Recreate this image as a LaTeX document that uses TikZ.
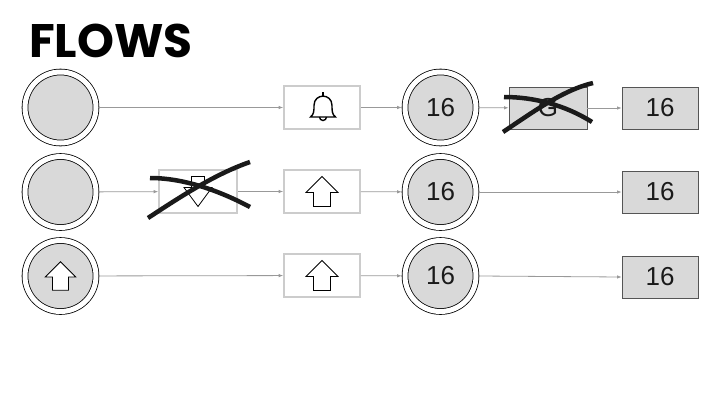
\documentclass[tikz,border=0pt]{standalone}
\usepackage{fontspec}
\setmainfont{Liberation Sans}
\newfontfamily\titlefont{Poppins}
\usetikzlibrary{arrows.meta}
\definecolor{fillgrey}{HTML}{D9D9D9}
\definecolor{lightedge}{HTML}{CCCCCC}
\definecolor{darkedge}{HTML}{555555}
\definecolor{flowgrey}{HTML}{999999}
\definecolor{inkblack}{HTML}{1A1A1A}
\begin{document}
\begin{tikzpicture}[x=1pt,y=-1pt,
  dcirc/.style={circle, draw=black, line width=0.8pt, double=white, double distance=5pt,
    fill=fillgrey, minimum size=71pt, inner sep=0pt, outer sep=3.3pt,
    font=\fontsize{26}{26}\selectfont, text=inkblack},
  lightbox/.style={rectangle, draw=lightedge, line width=1.6pt, fill=white,
    minimum width=76pt, minimum height=43pt, inner sep=0pt, outer sep=0.8pt},
  darkbox/.style={rectangle, draw=darkedge, line width=0.8pt, fill=fillgrey,
    minimum width=76pt, minimum height=42pt, inner sep=0pt,
    font=\fontsize{26}{26}\selectfont, text=inkblack},
  flow/.style={draw=flowgrey, line width=0.8pt, -{Latex[length=4.5pt,width=3.5pt]}},
  strike/.style={draw=inkblack, line width=4.5pt},
  icon/.style={draw=black, line width=0.8pt, fill=white},
  uparrow/.pic={\path[icon] (0,-15) -- (16,1) -- (8.5,1) -- (8.5,15) -- (-8.5,15) -- (-8.5,1) -- (-16,1) -- cycle;},
  downarrow/.pic={\path[icon] (0,15) -- (14,-4) -- (6.5,-4) -- (6.5,-15) -- (-6.5,-15) -- (-6.5,-4) -- (-14,-4) -- cycle;},
  bell/.pic={
    \path[icon, line width=1.4pt] (-12.5,9.5) .. controls (-9,7) and (-9,3) .. (-9,-2)
      .. controls (-9,-14.5) and (9,-14.5) .. (9,-2)
      .. controls (9,3) and (9,7) .. (12.5,9.5) -- cycle;
    \draw[line width=1.4pt] (0,-11.4) -- (0,-15.5);
    \draw[line width=1.4pt] (-3.5,9.5) arc[start angle=180, end angle=0, radius=3.5];
  }]
\useasboundingbox (0,0) rectangle (720,405);

% title
\node[anchor=base west, inner sep=0pt, font=\titlefont\bfseries\fontsize{47}{47}\selectfont] (title) at (29,57) {FLOWS};

% row 1
\node[dcirc] (c1) at (60.5,107.5) {};
\node[lightbox] (bellbox) at (322,107.5) {};
\pic at ([xshift=1pt]bellbox.center) {bell};
\node[dcirc] (n1) at (440.5,107.5) {16};
\node[darkbox, minimum width=78pt] (gbox) at (548,108) {G};
\node[darkbox] (r1) at (660,108) {16};

% row 2
\node[dcirc] (c2) at (60.5,192) {};
\node[lightbox, minimum width=78pt] (downbox) at (198,191.5) {};
\pic at (downbox.center) {downarrow};
\node[lightbox] (upbox2) at (322,191.5) {};
\pic at (upbox2.center) {uparrow};
\node[dcirc] (n2) at (440.5,192) {16};
\node[darkbox] (r2) at (660,192) {16};

% row 3
\node[dcirc] (c3) at (60.5,276) {};
\pic[scale=0.95] at (c3.center) {uparrow};
\node[lightbox] (upbox3) at (322,275.5) {};
\pic at (upbox3.center) {uparrow};
\node[dcirc] (n3) at (440.5,276) {16};
\node[darkbox] (r3) at (660,277) {16};

% connectors
\draw[flow] (c1) -- (bellbox);
\draw[flow] (bellbox) -- (n1);
\draw[flow] (n1) -- (gbox);
\draw[flow] (gbox) -- (r1);
\draw[flow] (c2) -- (downbox);
\draw[flow] (downbox) -- (upbox2);
\draw[flow] (upbox2) -- (n2);
\draw[flow] (n2) -- (r2);
\draw[flow] (c3) -- (upbox3);
\draw[flow] (upbox3) -- (n3);
\draw[flow] (n3.east) -- (r3.west);

% strike-throughs
\draw[strike] (503,132) .. controls (533,112) and (563,90) .. (593,83);
\draw[strike] (504,97) .. controls (534,97) and (565,105) .. (592,122);
\draw[strike] (148,218) .. controls (180,197) and (215,174) .. (250,162);
\draw[strike] (150,178) .. controls (183,178) and (218,190) .. (250,207);
\end{tikzpicture}
\end{document}
